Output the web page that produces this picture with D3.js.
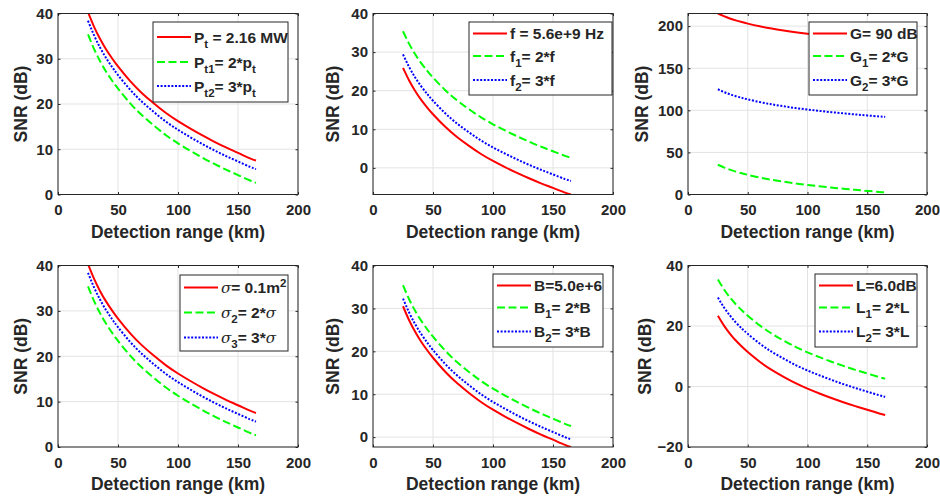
<!DOCTYPE html>
<html>
<head>
<meta charset="utf-8">
<script src="https://cdn.jsdelivr.net/npm/d3@7/dist/d3.min.js"></script>
<style>
  body { margin: 0; background: #fff; }
  text { font-family: "Liberation Sans", Arial, Helvetica, sans-serif; font-weight: bold; fill: #262626; }
</style>
</head>
<body>
<div id="chart"></div>
<script>
// detection range samples (km)
var rangeKm = [25, 30, 35, 40, 45, 50, 60, 70, 80, 90, 100, 110, 120, 130, 140, 150, 160, 165];

// panel 1 : transmit power
var snrPt  = [40.3, 37.1, 34.4, 32.1, 30.1, 28.3, 25.1, 22.4, 20.1, 18.0, 16.2, 14.6, 13.1, 11.7, 10.4, 9.2, 8.0, 7.5];
var snrPt1 = [35.4, 32.2, 29.5, 27.2, 25.2, 23.4, 20.2, 17.5, 15.2, 13.1, 11.3, 9.7, 8.2, 6.8, 5.5, 4.3, 3.1, 2.6];
var snrPt2 = [38.4, 35.2, 32.5, 30.2, 28.2, 26.4, 23.2, 20.5, 18.2, 16.1, 14.3, 12.7, 11.2, 9.8, 8.5, 7.3, 6.1, 5.6];

// panel 2 : frequency
var snrF  = [25.9, 22.7, 20.0, 17.7, 15.7, 13.9, 10.7, 8.0, 5.7, 3.6, 1.8, 0.2, -1.3, -2.7, -4.0, -5.2, -6.4, -6.9];
var snrF1 = [35.4, 32.2, 29.5, 27.2, 25.2, 23.4, 20.2, 17.5, 15.2, 13.1, 11.3, 9.7, 8.2, 6.8, 5.5, 4.3, 3.1, 2.6];
var snrF2 = [29.4, 26.2, 23.5, 21.2, 19.2, 17.4, 14.2, 11.5, 9.2, 7.1, 5.3, 3.7, 2.2, 0.8, -0.5, -1.7, -2.9, -3.4];

// panel 3 : antenna gain
var snrG  = [215, 211.8, 209.1, 206.8, 204.8, 203.0, 199.8, 197.1, 194.8, 192.7, 190.9, 189.3, 187.8, 186.4, 185.1, 183.9, 182.7, 182.2];
var snrG1 = [35.4, 32.2, 29.5, 27.2, 25.2, 23.4, 20.2, 17.5, 15.2, 13.1, 11.3, 9.7, 8.2, 6.8, 5.5, 4.3, 3.1, 2.6];
var snrG2 = [125, 121.8, 119.1, 116.8, 114.8, 113.0, 109.8, 107.1, 104.8, 102.7, 100.9, 99.3, 97.8, 96.4, 95.1, 93.9, 92.7, 92.2];

// panel 4 : radar cross section
var snrSigma  = [40.3, 37.1, 34.4, 32.1, 30.1, 28.3, 25.1, 22.4, 20.1, 18.0, 16.2, 14.6, 13.1, 11.7, 10.4, 9.2, 8.0, 7.5];
var snrSigma2 = [35.4, 32.2, 29.5, 27.2, 25.2, 23.4, 20.2, 17.5, 15.2, 13.1, 11.3, 9.7, 8.2, 6.8, 5.5, 4.3, 3.1, 2.6];
var snrSigma3 = [38.4, 35.2, 32.5, 30.2, 28.2, 26.4, 23.2, 20.5, 18.2, 16.1, 14.3, 12.7, 11.2, 9.8, 8.5, 7.3, 6.1, 5.6];

// panel 5 : bandwidth
var snrB  = [30.5, 27.3, 24.6, 22.3, 20.3, 18.5, 15.3, 12.6, 10.3, 8.2, 6.4, 4.8, 3.3, 1.9, 0.6, -0.6, -1.8, -2.3];
var snrB1 = [35.4, 32.2, 29.5, 27.2, 25.2, 23.4, 20.2, 17.5, 15.2, 13.1, 11.3, 9.7, 8.2, 6.8, 5.5, 4.3, 3.1, 2.6];
var snrB2 = [32.3, 29.1, 26.4, 24.1, 22.1, 20.3, 17.1, 14.4, 12.1, 10.0, 8.2, 6.6, 5.1, 3.7, 2.4, 1.2, 0.0, -0.5];

// panel 6 : losses
var snrL  = [23.4, 20.2, 17.5, 15.2, 13.2, 11.4, 8.2, 5.5, 3.2, 1.1, -0.7, -2.3, -3.8, -5.2, -6.5, -7.7, -8.9, -9.4];
var snrL1 = [35.4, 32.2, 29.5, 27.2, 25.2, 23.4, 20.2, 17.5, 15.2, 13.1, 11.3, 9.7, 8.2, 6.8, 5.5, 4.3, 3.1, 2.6];
var snrL2 = [29.4, 26.2, 23.5, 21.2, 19.2, 17.4, 14.2, 11.5, 9.2, 7.1, 5.3, 3.7, 2.2, 0.8, -0.5, -1.7, -2.9, -3.4];

// axis limits and ticks
var xTicks = [0, 50, 100, 150, 200];
var yLimits = [[0, 40], [-6.9, 40], [0, 215], [0, 40], [-2.3, 40], [-20, 40]];
var yTicks = [
  [0, 10, 20, 30, 40],
  [0, 10, 20, 30, 40],
  [0, 50, 100, 150, 200],
  [0, 10, 20, 30, 40],
  [0, 10, 20, 30, 40],
  [-20, 0, 20, 40]
];

// legend labels: [text, kind]
var legendLabels = [
  [[["P",""],["t","sub"],[" = 2.16 MW",""]], [["P",""],["t1","sub"],["= 2*p",""],["t","sub"]], [["P",""],["t2","sub"],["= 3*p",""],["t","sub"]]],
  [[["f = 5.6e+9 Hz",""]], [["f",""],["1","sub"],["= 2*f",""]], [["f",""],["2","sub"],["= 3*f",""]]],
  [[["G= 90 dB",""]], [["G",""],["1","sub"],["= 2*G",""]], [["G",""],["2","sub"],["= 3*G",""]]],
  [[["\u03c3","sym"],["= 0.1m",""],["2","sup"]], [["\u03c3","sym"],["2","sub"],["= 2*",""],["\u03c3","sym"]], [["\u03c3","sym"],["3","sub"],["= 3*",""],["\u03c3","sym"]]],
  [[["B=5.0e+6",""]], [["B",""],["1","sub"],["= 2*B",""]], [["B",""],["2","sub"],["= 3*B",""]]],
  [[["L=6.0dB",""]], [["L",""],["1","sub"],["= 2*L",""]], [["L",""],["2","sub"],["= 3*L",""]]]
];

var seriesData = [
  [snrPt, snrPt1, snrPt2],
  [snrF, snrF1, snrF2],
  [snrG, snrG1, snrG2],
  [snrSigma, snrSigma2, snrSigma3],
  [snrB, snrB1, snrB2],
  [snrL, snrL1, snrL2]
];

// layout (pixels)
var panels = [
  {left: 58,  right: 298, top: 13.5,  bottom: 194.5, ylabOff: 37, leg: {x: 153, y: 22,  w: 135, h: 80, rows: [15, 40, 64]}},
  {left: 373, right: 613, top: 13.5,  bottom: 194.5, ylabOff: 40, leg: {x: 469, y: 22,  w: 143, h: 73, rows: [11.5, 34, 58]}},
  {left: 688, right: 927, top: 13.5,  bottom: 194.5, ylabOff: 46, leg: {x: 809, y: 22,  w: 108, h: 73, rows: [11.5, 34, 58]}},
  {left: 58,  right: 298, top: 265.5, bottom: 447,   ylabOff: 37, leg: {x: 180, y: 275, w: 108, h: 76, rows: [12.5, 37.5, 62.5]}},
  {left: 373, right: 613, top: 265.5, bottom: 447,   ylabOff: 40, leg: {x: 493, y: 274, w: 110, h: 73, rows: [11.5, 33.5, 57.5]}},
  {left: 688, right: 927, top: 265.5, bottom: 447,   ylabOff: 43, leg: {x: 815, y: 274, w: 102, h: 73, rows: [11.5, 33.5, 57.5]}}
];

var styles = [
  {color: "#ff0000", dash: null},
  {color: "#00ff00", dash: "8,3.5"},
  {color: "#0000ff", dash: "2,1.6"}
];

var svg = d3.select("#chart").append("svg")
    .attr("width", 940)
    .attr("height", 499);

svg.append("rect").attr("width", 940).attr("height", 499).attr("fill", "#fff");

panels.forEach(function(p, i) {
  var w = p.right - p.left,
      h = p.bottom - p.top;

  var x = d3.scaleLinear().domain([0, 200]).range([0, w]);
  var y = d3.scaleLinear().domain(yLimits[i]).range([h, 0]);

  var g = svg.append("g")
      .attr("transform", "translate(" + p.left + "," + p.top + ")");

  g.append("clipPath").attr("id", "clip" + i)
    .append("rect").attr("width", w).attr("height", h);

  // grid
  g.selectAll(".gx").data(xTicks).enter().append("line")
      .attr("x1", function(d) { return x(d); })
      .attr("x2", function(d) { return x(d); })
      .attr("y1", 0).attr("y2", h)
      .attr("stroke", "#e3e3e3").attr("stroke-width", 1);
  g.selectAll(".gy").data(yTicks[i]).enter().append("line")
      .attr("x1", 0).attr("x2", w)
      .attr("y1", function(d) { return y(d); })
      .attr("y2", function(d) { return y(d); })
      .attr("stroke", "#e3e3e3").attr("stroke-width", 1);

  // curves
  var line = d3.line()
      .curve(d3.curveNatural)
      .x(function(d, j) { return x(rangeKm[j]); })
      .y(function(d) { return y(d); });

  seriesData[i].forEach(function(vals, k) {
    g.append("path")
        .datum(vals)
        .attr("clip-path", "url(#clip" + i + ")")
        .attr("fill", "none")
        .attr("stroke", styles[k].color)
        .attr("stroke-width", 2)
        .attr("stroke-dasharray", styles[k].dash)
        .attr("d", line);
  });

  // axes
  var xAxis = d3.axisBottom(x).tickValues(xTicks).tickSizeInner(-2.5).tickSizeOuter(0).tickPadding(10);
  var xAxisTop = d3.axisTop(x).tickValues(xTicks).tickSizeInner(-2.5).tickSizeOuter(0).tickFormat("");
  var yAxis = d3.axisLeft(y).tickValues(yTicks[i]).tickSizeInner(-2.5).tickSizeOuter(0).tickPadding(5);
  var yAxisRight = d3.axisRight(y).tickValues(yTicks[i]).tickSizeInner(-2.5).tickSizeOuter(0).tickFormat("");

  [
    [xAxis, "translate(0," + h + ")"],
    [xAxisTop, "translate(0,0)"],
    [yAxis, "translate(0,0)"],
    [yAxisRight, "translate(" + w + ",0)"]
  ].forEach(function(a) {
    var ag = g.append("g").attr("transform", a[1]).call(a[0]);
    ag.select(".domain").remove();
    ag.selectAll("line").attr("stroke", "#262626");
    ag.selectAll("text")
        .attr("fill", "#262626")
        .style("font-size", "15px")
        .style("font-family", "'Liberation Sans', Arial, sans-serif")
        .style("font-weight", "bold");
  });

  g.append("rect")
      .attr("width", w).attr("height", h)
      .attr("fill", "none")
      .attr("stroke", "#262626")
      .attr("stroke-width", 1);

  g.append("text")
      .attr("x", w / 2)
      .attr("y", h + 43)
      .attr("text-anchor", "middle")
      .style("font-size", "17.5px")
      .text("Detection range (km)");

  g.append("text")
      .attr("transform", "translate(" + (-p.ylabOff) + "," + (h / 2) + ") rotate(-90)")
      .attr("text-anchor", "middle")
      .attr("dy", "0.35em")
      .style("font-size", "17.5px")
      .text("SNR (dB)");

  // legend
  var lg = svg.append("g").attr("transform", "translate(" + p.leg.x + "," + p.leg.y + ")");
  lg.append("rect")
      .attr("width", p.leg.w).attr("height", p.leg.h)
      .attr("fill", "#fff")
      .attr("stroke", "#262626")
      .attr("stroke-width", 1);

  legendLabels[i].forEach(function(parts, k) {
    var ry = p.leg.rows[k];
    lg.append("line")
        .attr("x1", 4).attr("x2", 38)
        .attr("y1", ry).attr("y2", ry)
        .attr("stroke", styles[k].color)
        .attr("stroke-width", 2)
        .attr("stroke-dasharray", styles[k].dash);

    var t = lg.append("text")
        .attr("x", 41)
        .attr("y", ry + 5.5)
        .style("font-size", "15.5px");
    var shift = 0;
    parts.forEach(function(pt) {
      var ts = t.append("tspan").text(pt[0]);
      var target = 0;
      if (pt[1] == "sub") target = 5;
      if (pt[1] == "sup") target = -6;
      ts.attr("dy", target - shift);
      shift = target;
      if (pt[1] == "sub" || pt[1] == "sup") ts.style("font-size", "11.5px");
      if (pt[1] == "sym") {
        ts.style("font-family", "'DejaVu Serif', serif")
          .style("font-weight", "normal")
          .style("font-style", "italic")
          .style("font-size", "15px");
      }
    });
  });
});
</script>
</body>
</html>
